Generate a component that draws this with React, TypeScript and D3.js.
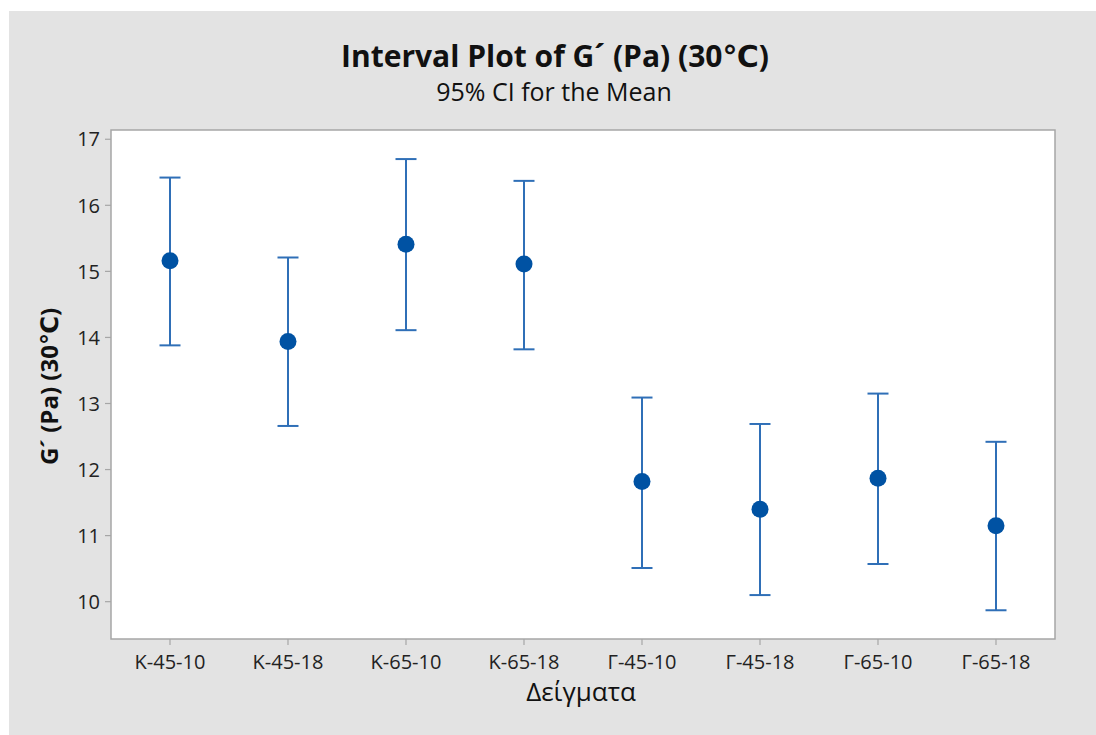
import React from "react";
import * as d3 from "d3";

const categories = ["Κ-45-10", "Κ-45-18", "Κ-65-10", "Κ-65-18", "Γ-45-10", "Γ-45-18", "Γ-65-10", "Γ-65-18"];
const means = [15.16, 13.94, 15.41, 15.11, 11.82, 11.4, 11.87, 11.15];
const upper = [16.42, 15.21, 16.7, 16.37, 13.09, 12.69, 13.15, 12.42];
const lower = [13.88, 12.66, 14.11, 13.82, 10.51, 10.1, 10.57, 9.87];
const yTicks = [10, 11, 12, 13, 14, 15, 16, 17];

const title = "Interval Plot of G\u00B4 (Pa) (30\u2103)";
const subtitle = "95% CI for the Mean";
const yTitle = "G\u00B4 (Pa) (30\u2103)";
const xTitle = "Δείγματα";

const W = 1096;
const H = 735;
const plot = { left: 111, right: 1055, top: 130, bottom: 639 };
const FONT = "'Open Sans', 'DejaVu Sans', sans-serif";
const LINE = "#2f6fb7";
const DOT = "#0052a3";

export default function App() {
  const x = d3.scalePoint<string>().domain(categories).range([plot.left, plot.right]).padding(0.5);
  const y = d3.scaleLinear().domain([9.435, 17.14]).range([plot.bottom, plot.top]);
  const capHalf = 10.5;

  return (
    <svg
      width={W}
      height={H}
      style={{ position: "absolute", left: 0, top: 0, display: "block" }}
      fontFamily={FONT}
    >
      <rect x={0} y={0} width={W} height={H} fill="#ffffff" />
      <rect x={9} y={11} width={W - 9} height={H - 11} fill="#e3e3e3" />
      <rect
        x={plot.left}
        y={plot.top}
        width={plot.right - plot.left}
        height={plot.bottom - plot.top}
        fill="#ffffff"
        stroke="#a6a6a6"
        strokeWidth={1.5}
      />
      {/* title */}
      <text x={555} y={67} textAnchor="middle" fontSize={30} fontWeight="bold" fill="#111">
        {title}
      </text>
      <text x={554} y={101} textAnchor="middle" fontSize={25} fill="#111">
        {subtitle}
      </text>
      {/* y axis */}
      {yTicks.map((t) => (
        <g key={t}>
          <line x1={plot.left - 6} x2={plot.left} y1={y(t)} y2={y(t)} stroke="#a6a6a6" strokeWidth={1.2} />
          <text x={plot.left - 11} y={y(t)} dy="0.36em" textAnchor="end" fontSize={20} fill="#222">
            {t}
          </text>
        </g>
      ))}
      <text
        transform={`translate(58, ${(plot.top + plot.bottom) / 2 + 2}) rotate(-90)`}
        textAnchor="middle"
        fontSize={24}
        fontWeight="bold"
        fill="#111"
      >
        {yTitle}
      </text>
      {/* x axis */}
      {categories.map((c) => (
        <g key={c}>
          <line x1={x(c)} x2={x(c)} y1={plot.bottom} y2={plot.bottom + 6} stroke="#a6a6a6" strokeWidth={1.2} />
          <text x={x(c)} y={plot.bottom + 30} textAnchor="middle" fontSize={20} fill="#222">
            {c}
          </text>
        </g>
      ))}
      <text x={581} y={701} textAnchor="middle" fontSize={26} fill="#111">
        {xTitle}
      </text>
      {/* intervals */}
      {categories.map((c, i) => {
        const cx = x(c) as number;
        return (
          <g key={"iv" + c}>
            <line x1={cx} x2={cx} y1={y(upper[i])} y2={y(lower[i])} stroke={LINE} strokeWidth={2} />
            <line x1={cx - capHalf} x2={cx + capHalf} y1={y(upper[i])} y2={y(upper[i])} stroke={LINE} strokeWidth={2} />
            <line x1={cx - capHalf} x2={cx + capHalf} y1={y(lower[i])} y2={y(lower[i])} stroke={LINE} strokeWidth={2} />
            <circle cx={cx} cy={y(means[i])} r={8.5} fill={DOT} />
          </g>
        );
      })}
    </svg>
  );
}
